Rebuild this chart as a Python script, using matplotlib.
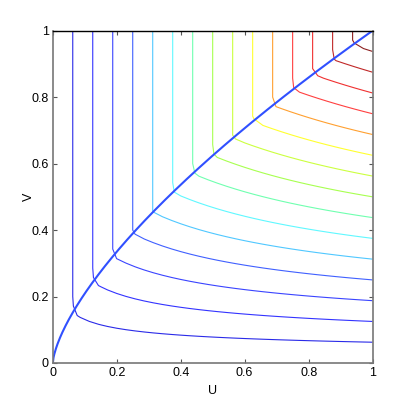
import numpy as np
import matplotlib
matplotlib.use('Agg')
import matplotlib.pyplot as plt

# параметры копулы (Маршалл-Олкин, beta = 1)
alpha = 0.68
levels = [k / 16 for k in range(1, 16)]
level_colors = ['#2a2ae8', '#3333ff', '#3a44ff', '#4060ff', '#50c8ff',
                '#60f8ff', '#70ffb0', '#a8ff50', '#ccff40', '#ffff30',
                '#ffa030', '#ff4040', '#f03030', '#c02828', '#8c2020']
ticks = [0, 0.2, 0.4, 0.6, 0.8, 1]
tick_labels = ['0', '0.2', '0.4', '0.6', '0.8', '1']

# сетка
u = np.linspace(0, 1, 36)
U, V = np.meshgrid(u, u)
C = np.minimum(U, U ** (1 - alpha) * V)

# кривая сингулярной компоненты v = u^alpha
uc = np.linspace(0, 1, 400)
vc = uc ** alpha

plt.rcParams['font.family'] = ['Liberation Sans', 'DejaVu Sans']
fig = plt.figure(figsize=(4.09, 4.09), dpi=100)
ax = fig.add_axes([0.129, 0.1125, 0.782, 0.8125])

ax.contour(U, V, C, levels=levels, colors=level_colors, linewidths=0.8)
ax.plot(uc, vc, color='#3050ff', lw=1.5)

ax.set_xlim(0, 1)
ax.set_ylim(0, 1)
ax.set_xticks(ticks)
ax.set_xticklabels(tick_labels)
ax.set_yticks(ticks)
ax.set_yticklabels(tick_labels)
ax.tick_params(direction='in', length=3, width=0.8, color='#555555',
               top=True, right=True, labelsize=9, pad=3)
for side in ['left', 'bottom', 'right']:
    ax.spines[side].set_color('#777777')
    ax.spines[side].set_linewidth(1.2)
ax.spines['top'].set_color('black')
ax.spines['top'].set_linewidth(1.0)

ax.set_xlabel('U', fontsize=9, labelpad=4)
ax.set_ylabel('V', fontsize=9, labelpad=-3)

fig.savefig('out.png', dpi=100)
